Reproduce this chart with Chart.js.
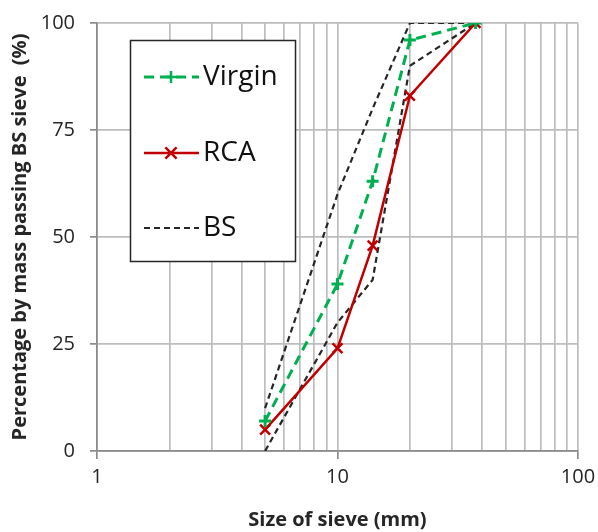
<!DOCTYPE html>
<html>
<head>
<meta charset="utf-8">
<script src="https://cdn.jsdelivr.net/npm/chart.js@4"></script>
<style>
  html, body { margin: 0; background: #fff; }
  #wrap { width: 598px; height: 532px; }
</style>
</head>
<body>
<div id="wrap"><canvas id="myChart"></canvas></div>
<script>
// sieve sizes (mm) and % passing
const sieveSizes = [5, 10, 14, 20, 37.5];
const virgin = [7, 39, 63, 96, 100];
const rca = [5, 24, 48, 83, 100];
const bsLower = [0, 30, 40, 90, 100];
const bsUpper = [10, 60, 80, 100, 100];
const xTicks = [1, 2, 3, 4, 5, 6, 7, 8, 9, 10, 20, 30, 40, 50, 60, 70, 80, 90, 100];
const yTicks = [0, 25, 50, 75, 100];

const toPoints = vals => sieveSizes.map((s, i) => ({ x: s, y: vals[i] }));
const isMajor = v => Math.abs(Math.log10(v) - Math.round(Math.log10(v))) < 1e-9;

const GRID = '#bdbdbd';
const AXIS = '#8c8c8c';
const FONT = "'Open Sans', sans-serif";

// legend box drawn inside the plot, like the Excel one
const boxLegend = {
  id: 'boxLegend',
  afterDraw(chart) {
    const ctx = chart.ctx;
    ctx.save();
    ctx.fillStyle = '#fff';
    ctx.fillRect(130, 40, 166, 222);
    ctx.strokeStyle = '#262626';
    ctx.lineWidth = 1.5;
    ctx.strokeRect(130.5, 40.5, 165, 221);

    const items = [
      { ds: chart.data.datasets[0], y: 77 },
      { ds: chart.data.datasets[1], y: 153 },
      { ds: chart.data.datasets[2], y: 228 }
    ];
    items.forEach(it => {
      const ds = it.ds;
      ctx.strokeStyle = ds.borderColor;
      ctx.lineWidth = ds.borderWidth;
      ctx.setLineDash(ds.borderDash || []);
      ctx.beginPath();
      ctx.moveTo(144, it.y);
      ctx.lineTo(199, it.y);
      ctx.stroke();
      ctx.setLineDash([]);
      if (ds.pointRadius > 0) {
        const cx = 171, r = ds.pointRadius;
        ctx.lineWidth = 2.5;
        ctx.beginPath();
        if (ds.pointStyle === 'cross') {
          ctx.moveTo(cx - r, it.y); ctx.lineTo(cx + r, it.y);
          ctx.moveTo(cx, it.y - r); ctx.lineTo(cx, it.y + r);
        } else {
          const d = r * 0.8;
          ctx.moveTo(cx - d, it.y - d); ctx.lineTo(cx + d, it.y + d);
          ctx.moveTo(cx - d, it.y + d); ctx.lineTo(cx + d, it.y - d);
        }
        ctx.stroke();
      }
      ctx.fillStyle = '#111';
      ctx.font = "28px " + FONT;
      ctx.textBaseline = 'middle';
      ctx.fillText(ds.label, 203, it.y);
    });
    ctx.restore();
  }
};

new Chart('myChart', {
  type: 'scatter',
  data: {
    datasets: [
      {
        label: 'Virgin',
        data: toPoints(virgin),
        showLine: true,
        borderColor: '#00b050',
        backgroundColor: '#00b050',
        borderWidth: 3,
        borderDash: [10, 6],
        pointStyle: 'cross',
        pointRadius: 6,
        pointBorderWidth: 3
      },
      {
        label: 'RCA',
        data: toPoints(rca),
        showLine: true,
        borderColor: '#c00000',
        backgroundColor: '#c00000',
        borderWidth: 2.5,
        pointStyle: 'crossRot',
        pointRadius: 7,
        pointBorderWidth: 2.5
      },
      {
        label: 'BS',
        data: toPoints(bsLower),
        showLine: true,
        borderColor: '#262626',
        borderWidth: 2.2,
        borderDash: [6, 4],
        pointRadius: 0
      },
      {
        label: 'BS upper',
        data: toPoints(bsUpper),
        showLine: true,
        borderColor: '#262626',
        borderWidth: 2.2,
        borderDash: [6, 4],
        pointRadius: 0
      }
    ]
  },
  options: {
    responsive: true,
    maintainAspectRatio: false,
    animation: false,
    layout: { padding: { top: 23, right: 20, left: 0, bottom: 0 } },
    plugins: {
      legend: { display: false },
      tooltip: { enabled: false }
    },
    scales: {
      x: {
        type: 'logarithmic',
        min: 1,
        max: 100,
        afterBuildTicks: s => { s.ticks = xTicks.map(v => ({ value: v, major: isMajor(v) })); },
        afterFit: s => { s.height = 81; s.paddingLeft = 0; s.paddingRight = 0; },
        ticks: {
          autoSkip: false,
          maxRotation: 0,
          padding: 6,
          color: '#262626',
          font: { family: FONT, size: 20 },
          callback: v => isMajor(v) ? String(v) : ''
        },
        grid: {
          color: GRID,
          lineWidth: 1.7,
          tickLength: 8,
          tickColor: c => (c.tick && isMajor(c.tick.value)) ? AXIS : 'rgba(0,0,0,0)'
        },
        border: { color: AXIS, width: 1.7 },
        title: {
          display: true,
          text: 'Size of sieve (mm)',
          color: '#262626',
          font: { family: FONT, size: 20, weight: 'bold' },
          padding: { top: 0, bottom: 0 }
        }
      },
      y: {
        min: 0,
        max: 100,
        afterBuildTicks: s => { s.ticks = yTicks.map(v => ({ value: v })); },
        afterFit: s => { s.width = 97; s.paddingTop = 0; s.paddingBottom = 0; },
        ticks: {
          padding: 15,
          color: '#262626',
          font: { family: FONT, size: 20 }
        },
        grid: {
          color: GRID,
          lineWidth: 1.7,
          tickLength: 7,
          tickColor: AXIS
        },
        border: { color: AXIS, width: 1.7 },
        title: {
          display: true,
          text: 'Percentage by mass passing BS sieve  (%)',
          color: '#262626',
          font: { family: FONT, size: 20, weight: 'bold' },
          padding: { top: 8, bottom: 0 }
        }
      }
    }
  },
  plugins: [boxLegend]
});
</script>
</body>
</html>
